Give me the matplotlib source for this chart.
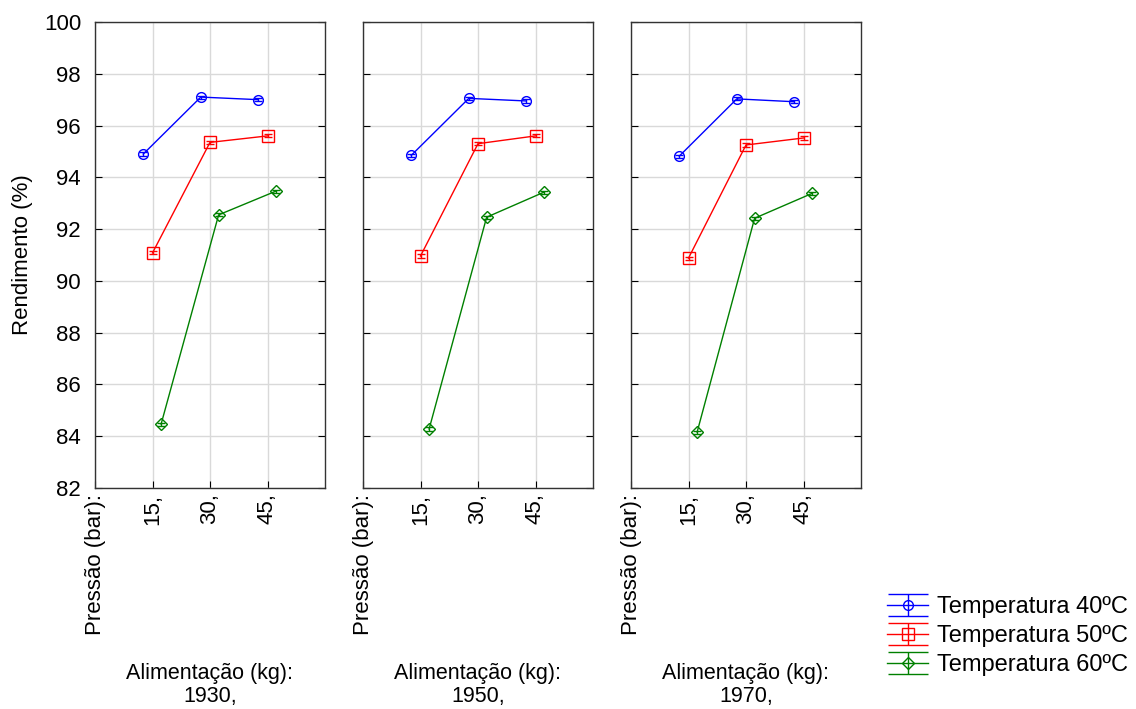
import numpy as np
import matplotlib
matplotlib.use('Agg')
import matplotlib.pyplot as plt
from matplotlib.legend_handler import HandlerErrorbar

plt.rcParams['font.family'] = ['Liberation Sans', 'DejaVu Sans']

feed_labels = ['1930,', '1950,', '1970,']
pressure_labels = ['Pressão (bar):', '15,', '30,', '45,']
temp_labels = ['Temperatura 40ºC', 'Temperatura 50ºC', 'Temperatura 60ºC']

# rendimento por painel (alimentação), por temperatura, nas pressões 15/30/45
y_1930 = [[94.9, 97.1, 97.0],
          [91.08, 95.35, 95.6],
          [84.47, 92.55, 93.47]]
y_1950 = [[94.85, 97.05, 96.95],
          [90.96, 95.3, 95.6],
          [84.28, 92.46, 93.43]]
y_1970 = [[94.82, 97.03, 96.92],
          [90.88, 95.25, 95.52],
          [84.16, 92.42, 93.38]]
err = 0.06

colors = ['#0000ff', '#ff0000', '#008000']
markers = ['o', 's', 'D']
msizes = [7, 8, 6]
offsets = [-0.16, 0.0, 0.15]

fig = plt.figure(figsize=(11.36, 7.09), dpi=100)
lefts = [95, 363, 631]
axes = []
for i, (lbl, data) in enumerate(zip(feed_labels, [y_1930, y_1950, y_1970])):
    ax = fig.add_axes([lefts[i] / 1136, (709 - 488) / 709, 230 / 1136, 466 / 709])
    axes.append(ax)
    for k in range(3):
        xs = [1 + offsets[k], 2 + offsets[k], 3 + offsets[k]]
        ax.errorbar(xs, data[k], yerr=err, color=colors[k], marker=markers[k],
                    markersize=msizes[k], markerfacecolor='none', lw=1,
                    capsize=3, elinewidth=1, zorder=3)
    ax.set_xlim(0, 4)
    ax.set_ylim(82, 100)
    ax.set_xticks([0, 1, 2, 3])
    ax.set_xticklabels(pressure_labels, rotation=90, fontsize=16)
    ax.set_yticks(range(82, 101, 2))
    ax.grid(True, color='#d9d9d9', lw=1)
    ax.set_axisbelow(True)
    ax.tick_params(direction='in', right=True, length=5, color='black')
    ax.tick_params(axis='x', length=5, pad=4)
    if i == 0:
        ax.tick_params(axis='y', labelsize=16, pad=10)
        ax.set_ylabel('Rendimento (%)', fontsize=16, labelpad=8)
    else:
        ax.set_yticklabels([])
    for s in ax.spines.values():
        s.set_color('#333333')
        s.set_linewidth(1)
    fig.text((lefts[i] + 115) / 1136, 1 - 685 / 709, 'Alimentação (kg):\n' + lbl,
             ha='center', va='center', fontsize=15.5, linespacing=1.1)

# legend handles: errorbar symbols with wide caps, drawn with no data
handles = []
for k in range(3):
    h = axes[0].errorbar([np.nan], [np.nan], yerr=[1], color=colors[k],
                         marker=markers[k], markersize=msizes[k],
                         markerfacecolor='none', lw=1, capsize=14.5, elinewidth=1)
    handles.append(h)
fig.legend(handles, temp_labels, loc='upper left',
           bbox_to_anchor=(887 / 1136, 1 - 596 / 709), frameon=False,
           fontsize=17, handlelength=1.75, handletextpad=0.35, labelspacing=0.3,
           borderpad=0, borderaxespad=0,
           handler_map={type(handles[0]): HandlerErrorbar(yerr_size=0.47)})

fig.savefig('out.png', dpi=100)
